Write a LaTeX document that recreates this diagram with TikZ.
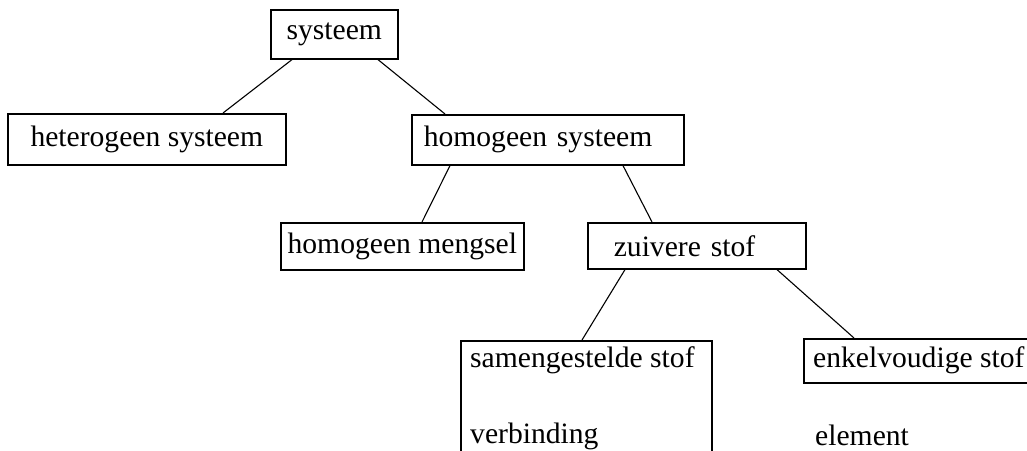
\documentclass[tikz,border=0pt]{standalone}
\usepackage{fontspec}
\setmainfont{Liberation Serif}
\usetikzlibrary{calc}
\begin{document}
\begin{tikzpicture}[x=1pt,y=-1pt,
  box/.style={draw=black,line width=1.6pt,rectangle,inner sep=0pt,anchor=north west,font=\fontsize{29.6}{36}\selectfont},
  txt/.style={inner sep=0pt,anchor=base west,font=\fontsize{29.6}{36}\selectfont},
  link/.style={draw=black,line width=1.1pt}]
\useasboundingbox (0,0) rectangle (1027,450);
\clip (0,0) rectangle (1027,450);
\fill[white] (0,0) rectangle (1027,450);
% boxes
\node[box,minimum width=127pt,minimum height=49pt] (sys) at (270,9) {systeem};
\node[box,minimum width=278pt,minimum height=51pt] (het) at (7,113) {heterogeen systeem};
\node[box,minimum width=272pt,minimum height=50pt,text width=248pt,align=left] (hom) at (411,114) {homogeen systeem};
\node[box,minimum width=243pt,minimum height=47pt] (meng) at (280,222) {homogeen mengsel};
\node[box,minimum width=218pt,minimum height=46pt,text width=166pt,align=left] (zuiv) at (587,222) {zuivere stof};
\node[box,minimum width=251pt,minimum height=150pt] (sam) at (460,340) {};
\node[box,minimum width=250pt,minimum height=44pt] (enk) at (803,338) {};
% texts
\node[txt] (samt) at (470,367) {samengestelde stof};
\node[txt] (verb) at (470,443) {verbinding};
\node[txt] (enkt) at (813,367) {enkelvoudige stof};
\node[txt] (elem) at (815,445) {element};
% connectors
\draw[link] ($(sys.south west)+(22,0)$) -- ($(het.north west)+(216,0)$);
\draw[link] ($(sys.south west)+(108,0)$) -- ($(hom.north west)+(34,0)$);
\draw[link] ($(hom.south west)+(39,0)$) -- ($(meng.north west)+(142,0)$);
\draw[link] ($(hom.south west)+(212,0)$) -- ($(zuiv.north west)+(65,0)$);
\draw[link] ($(zuiv.south west)+(38,0)$) -- ($(sam.north west)+(122,0)$);
\draw[link] ($(zuiv.south west)+(190,0)$) -- ($(enk.north west)+(51,0)$);
\end{tikzpicture}
\end{document}
